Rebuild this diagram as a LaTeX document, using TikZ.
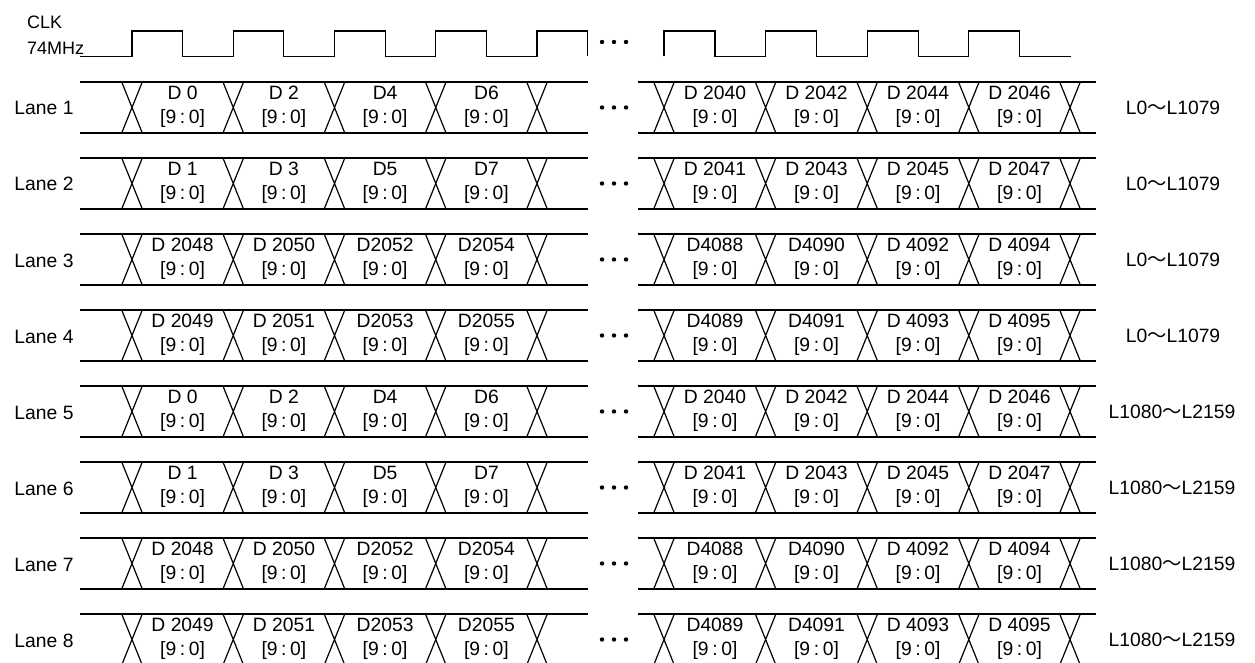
\documentclass[tikz,border=0pt]{standalone}
\usepackage{fontspec}
\setmainfont{Liberation Sans}
\newfontfamily\cjk{Noto Sans CJK JP}
\newcommand\bitsfield{[9\hspace{3.6pt}:\hspace{3.6pt}0]}
\tikzset{
  sig/.style={line width=1.2pt, line join=miter},
  txt/.style={anchor=base, inner sep=0pt, font=\fontsize{19.3}{23}\selectfont},
  clktxt/.style={anchor=base west, inner sep=0pt, font=\fontsize{18}{21}\selectfont},
  dotmark/.style={fill=black, draw=none}
}
\newcommand\lanerow[9]{%
  \pgfmathsetmacro\laneTop{82+76*(#1-1)}%
  \pgfmathsetmacro\laneBot{\laneTop+51}%
  \draw[sig] (80,\laneTop) -- (588,\laneTop) (80,\laneBot) -- (588,\laneBot)
             (638,\laneTop) -- (1096,\laneTop) (638,\laneBot) -- (1096,\laneBot);
  \foreach \c in {132,233.25,334.5,435.75,537,664,765.6,867.2,968.8,1070}{
    \draw[sig] (\c-10.3,\laneTop) -- (\c+10.3,\laneBot) (\c+10.3,\laneTop) -- (\c-10.3,\laneBot);
  }
  \node[txt] (lane#1) at (44,\laneTop+33) {Lane #1};
  \node[txt] (l#1d1) at (182.6,\laneTop+17.7) {#2};
  \node[txt] (l#1d2) at (283.9,\laneTop+17.7) {#3};
  \node[txt] (l#1d3) at (385.1,\laneTop+17.7) {#4};
  \node[txt] (l#1d4) at (486.4,\laneTop+17.7) {#5};
  \node[txt] (l#1d5) at (715,\laneTop+17.7) {#6};
  \node[txt] (l#1d6) at (816.5,\laneTop+17.7) {#7};
  \node[txt] (l#1d7) at (918,\laneTop+17.7) {#8};
  \node[txt] (l#1d8) at (1019.5,\laneTop+17.7) {#9};
  \foreach \x [count=\k] in {182.6,283.9,385.1,486.4,715,816.5,918,1019.5}{
    \node[txt] (l#1b\k) at (\x,\laneTop+41.7) {\bitsfield};
  }
  \ifnum#1<5
    \node[txt] (l#1r) at (1173,\laneTop+32.5) {L0{\cjk ～}L1079};
  \else
    \node[txt] (l#1r) at (1172,\laneTop+32.5) {L1080{\cjk ～}L2159};
  \fi
  \foreach \x in {602,614,626}{ \fill[dotmark] (\x,\laneTop+25.5) circle (2.2); }
}
\begin{document}
\begin{tikzpicture}[x=1pt,y=-1pt]
\useasboundingbox (0,0) rectangle (1255,663);
\clip (0,0) rectangle (1255,663);
% clock label
\node[clktxt] (clk) at (27,29) {CLK};
\node[clktxt] (freq) at (27,55) {74MHz};
% clock wave, first part
\draw[sig] (80,56.5) foreach \k in {0,...,4}{
  -- ({132+101.25*\k},56.5) -- ({132+101.25*\k},31)
  -- ({182.6+101.25*\k},31) -- ({182.6+101.25*\k},56.5) };
% clock wave, second part
\draw[sig] (664,56.5) foreach \k in {0,...,3}{
  -- ({664+101.6*\k},56.5) -- ({664+101.6*\k},31)
  -- ({715+101.6*\k},31) -- ({715+101.6*\k},56.5) } -- (1071,56.5);
\foreach \x in {602,614,626}{ \fill[dotmark] (\x,42) circle (2.2); }
% lanes
\lanerow{1}{D 0}{D 2}{D4}{D6}{D 2040}{D 2042}{D 2044}{D 2046}
\lanerow{2}{D 1}{D 3}{D5}{D7}{D 2041}{D 2043}{D 2045}{D 2047}
\lanerow{3}{D 2048}{D 2050}{D2052}{D2054}{D4088}{D4090}{D 4092}{D 4094}
\lanerow{4}{D 2049}{D 2051}{D2053}{D2055}{D4089}{D4091}{D 4093}{D 4095}
\lanerow{5}{D 0}{D 2}{D4}{D6}{D 2040}{D 2042}{D 2044}{D 2046}
\lanerow{6}{D 1}{D 3}{D5}{D7}{D 2041}{D 2043}{D 2045}{D 2047}
\lanerow{7}{D 2048}{D 2050}{D2052}{D2054}{D4088}{D4090}{D 4092}{D 4094}
\lanerow{8}{D 2049}{D 2051}{D2053}{D2055}{D4089}{D4091}{D 4093}{D 4095}
\end{tikzpicture}
\end{document}
